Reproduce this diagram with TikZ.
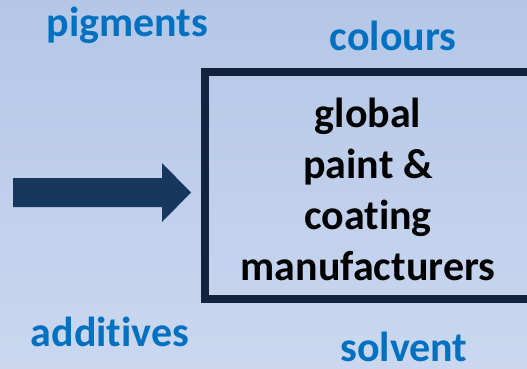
\documentclass[tikz,border=0pt]{standalone}
\usepackage{fontspec}
\setmainfont{Carlito}[Ligatures=CommonOff]
\definecolor{bgtop}{HTML}{B4C7E7}
\definecolor{bgbot}{HTML}{CAD7EF}
\definecolor{ink}{HTML}{0070C0}
\definecolor{frame}{HTML}{10233F}
\definecolor{arrowblue}{HTML}{17375E}
\tikzset{
  label/.style={anchor=base, text=ink, font=\fontsize{42}{50}\selectfont\bfseries, inner sep=0pt},
  boxtext/.style={align=center, text=black, font=\fontsize{42}{51}\selectfont\bfseries, inner sep=0pt},
}
\begin{document}
\begin{tikzpicture}[x=1pt,y=-1pt]
  \useasboundingbox (0,0) rectangle (527,368);
  \clip (0,0) rectangle (527,368);
  % background
  \shade[top color=bgtop, bottom color=bgbot] (0,0) rectangle (527,368);
  % manufacturers frame (runs past the right edge)
  \draw[frame, line width=8pt] (560,72) -- (205,72) -- (205,299) -- (560,299);
  \node[boxtext] (makers) at (368,189) {global\\paint \&\\coating\\manufacturers};
  % block arrow
  \fill[arrowblue] (13,178) -- (162,178) -- (162,163) -- (191,192.5) -- (162,222) -- (162,207) -- (13,207) -- cycle;
  % raw materials
  \node[label] (pigments) at (127.5,36) {pigments};
  \node[label] (colours) at (393,50) {colours};
  \node[label] (additives) at (110,346) {additives};
  \node[label] (solvent) at (404,361) {solvent};
\end{tikzpicture}
\end{document}
